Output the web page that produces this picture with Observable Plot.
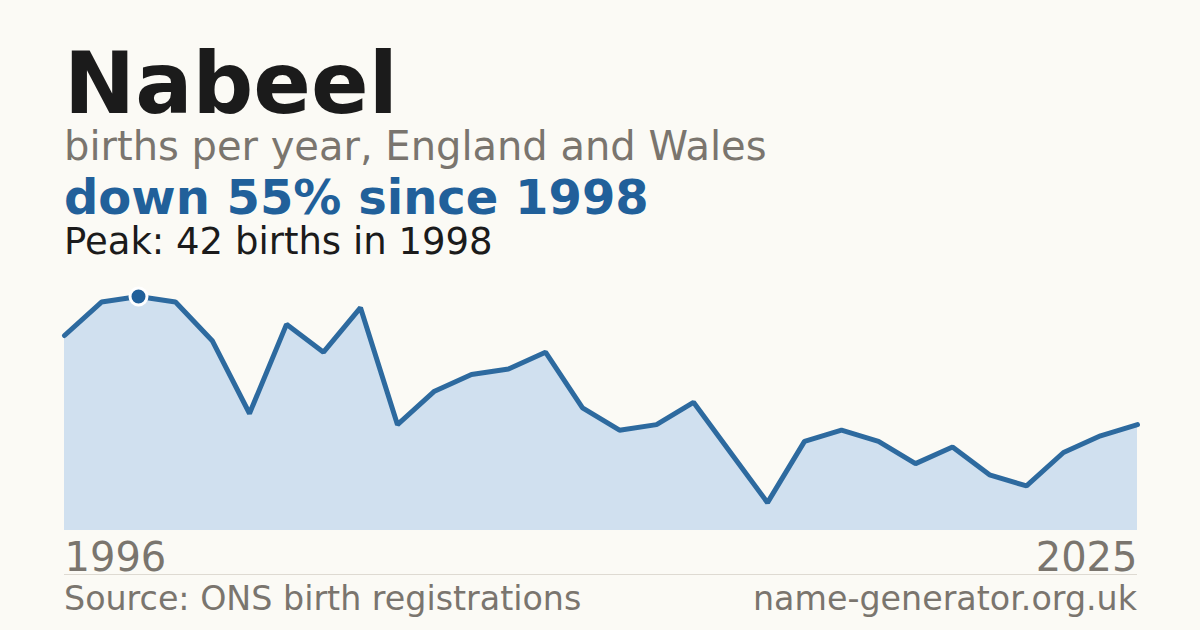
<!DOCTYPE html>
<html>
<head>
<meta charset="utf-8">
<script src="https://cdn.jsdelivr.net/npm/d3@7"></script>
<script src="https://cdn.jsdelivr.net/npm/@observablehq/plot@0.6"></script>
<style>
  html, body { margin: 0; padding: 0; }
  body { width: 1200px; height: 630px; background: #fbfaf5; position: relative; overflow: hidden; font-family: "DejaVu Sans", sans-serif; }
  .t { position: absolute; left: 64px; white-space: nowrap; }
  #title { top: 50px; font-size: 85px; line-height: 68px; font-weight: bold; color: #1b1b1b; }
  #sub { top: 130px; font-size: 40px; line-height: 32px; color: #7a756e; }
  #head { top: 178px; font-size: 48px; line-height: 38px; font-weight: bold; color: #21609a; }
  #peak { top: 227px; font-size: 37px; line-height: 30px; color: #1b1b1b; }
  #chart { position: absolute; left: 0; top: 280px; }
  #sep { position: absolute; left: 64px; width: 1073px; top: 574px; height: 1px; background: #dedad2; }
  .foot { position: absolute; top: 585px; font-size: 33.3px; line-height: 27px; color: #7a756e; white-space: nowrap; }
  #src { left: 64px; }
  #site { right: 63px; }
</style>
</head>
<body>
<div class="t" id="title">Nabeel</div>
<div class="t" id="sub">births per year, England and Wales</div>
<div class="t" id="head">down 55% since 1998</div>
<div class="t" id="peak">Peak: 42 births in 1998</div>
<div id="chart"></div>
<div id="sep"></div>
<div class="foot" id="src">Source: ONS birth registrations</div>
<div class="foot" id="site">name-generator.org.uk</div>
<script>
const years = [1996,1997,1998,1999,2000,2001,2002,2003,2004,2005,2006,2007,2008,2009,2010,2011,2012,2013,2014,2015,2016,2017,2018,2019,2020,2021,2022,2023,2024,2025];
const births = [35,41,42,41,34,21,37,32,40,19,25,28,29,32,22,18,19,23,14,5,16,18,16,12,15,10,8,14,17,19];
const peakYear = 1998;
const peakValue = 42;
const tickYears = [1996, 2025];

const data = years.map((y, i) => ({year: y, value: births[i]}));

const chart = Plot.plot({
  width: 1200,
  height: 300,
  marginLeft: 64,
  marginRight: 63,
  marginTop: 16,
  marginBottom: 50,
  style: {background: "transparent", fontFamily: "DejaVu Sans, sans-serif", overflow: "visible"},
  x: {domain: [years[0], years[years.length - 1]], axis: null},
  y: {domain: [0, peakValue], axis: null},
  marks: [
    Plot.areaY(data, {x: "year", y: "value", fill: "#d0e0ef"}),
    Plot.lineY(data, {x: "year", y: "value", stroke: "#2d6a9f", strokeWidth: 5, strokeLinejoin: "miter"}),
    Plot.dot([{year: peakYear, value: peakValue}], {x: "year", y: "value", r: 8.5, fill: "#21609a", stroke: "white", strokeWidth: 3}),
    Plot.text([tickYears[0]], {x: d => d, frameAnchor: "bottom", lineAnchor: "top", textAnchor: "start", dy: 12, fontSize: 40, fill: "#7a756e", text: d => String(d)}),
    Plot.text([tickYears[1]], {x: d => d, frameAnchor: "bottom", lineAnchor: "top", textAnchor: "end", dy: 12, fontSize: 40, fill: "#7a756e", text: d => String(d)})
  ]
});
document.getElementById("chart").appendChild(chart);
</script>
</body>
</html>
